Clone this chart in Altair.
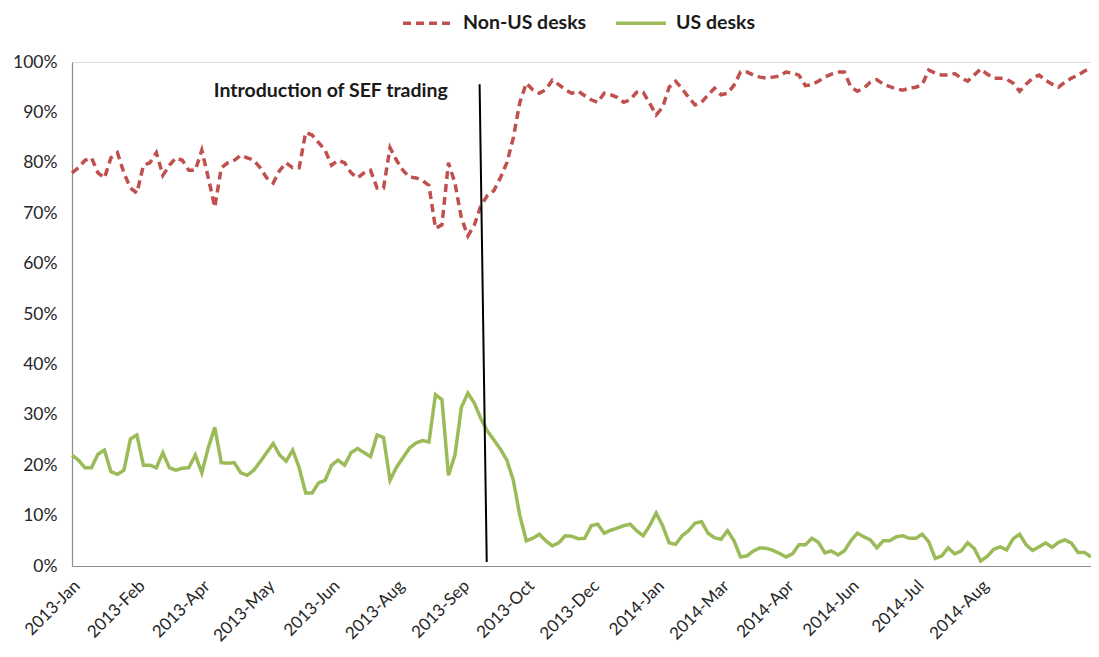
import json
import altair as alt
import pandas as pd

# Share of trading (%) by desk location, sampled points in time order
non_us = [78, 79, 80.5, 81, 78, 77, 81, 82, 78, 75,
          74, 79.5, 80, 82, 77.5, 79.5, 81, 80.5, 78.5, 78.5,
          82.5, 77, 71.2, 79, 80, 80.5, 81.5, 81, 80.5, 79,
          77, 76, 78.5, 80, 79, 79, 86, 85.5, 84, 82.5,
          79.5, 80.5, 80, 78, 77, 78, 78.5, 75, 75, 83,
          80.5, 78.5, 77.2, 77, 76.5, 75.5, 67, 67.7, 80, 76,
          69, 65.5, 67.7, 71.5, 73.5, 74.5, 77, 80, 85, 92,
          95.8, 94.5, 93.8, 94.5, 96.4, 95.5, 94.5, 93.8, 94.2, 93.3,
          92.5, 92, 93.8, 93.5, 93, 92, 92.5, 94, 94, 91.8,
          89.5, 91, 95, 96.2, 94.7, 93, 91.5, 92, 93.5, 94.8,
          93.5, 93.8, 95.4, 98, 98, 97.4, 97, 96.8, 97, 97.2,
          98, 97.8, 97.4, 95.3, 95.5, 96.2, 97, 97.6, 98, 98,
          95, 94.2, 94.8, 96, 96.5, 95.6, 95.1, 94.7, 94.4, 94.8,
          95, 95.5, 98.4, 97.8, 97.4, 97.4, 97.7, 96.8, 96.2, 97.4,
          98.6, 97.6, 96.8, 96.8, 96.6, 95.8, 94.2, 95.6, 96.8, 97.4,
          96.4, 95.6, 95, 96, 96.8, 97.4, 98.2, 98.8]

us = [22, 21, 19.5, 19.5, 22.2, 23, 18.7, 18.2, 19, 25.2,
      26, 20, 20, 19.5, 22.5, 19.5, 19, 19.4, 19.5, 22,
      18.5, 23.5, 27.5, 20.5, 20.4, 20.5, 18.5, 18, 19, 20.7,
      22.5, 24.3, 22, 20.8, 23, 19.5, 14.5, 14.5, 16.5, 17,
      20, 21, 20, 22.5, 23.3, 22.5, 21.7, 26, 25.5, 17,
      19.6, 21.5, 23.4, 24.4, 24.9, 24.6, 34, 33, 18, 22,
      31.5, 34.3, 32.3, 29.2, 26.8, 25, 23.2, 21, 17, 10,
      5, 5.5, 6.3, 5, 4, 4.6, 6, 5.9, 5.4, 5.5,
      8, 8.3, 6.5, 7.1, 7.5, 8, 8.3, 7, 6, 8,
      10.5, 8, 4.6, 4.3, 6, 7, 8.5, 8.8, 6.5, 5.6,
      5.3, 7, 5, 1.8, 2, 3, 3.6, 3.5, 3.1, 2.5,
      1.8, 2.4, 4.2, 4.2, 5.5, 4.7, 2.6, 3, 2.2, 3,
      5, 6.5, 5.8, 5.2, 3.6, 5, 5, 5.8, 6, 5.5,
      5.5, 6.3, 4.8, 1.5, 2, 3.6, 2.4, 3, 4.6, 3.5,
      1, 1.9, 3.3, 3.8, 3.2, 5.4, 6.3, 4.2, 3.1, 3.8,
      4.6, 3.7, 4.7, 5.2, 4.5, 2.7, 2.7, 1.8]

tick_labels = ["2013-Jan", "2013-Feb", "2013-Apr", "2013-May", "2013-Jun",
               "2013-Aug", "2013-Sep", "2013-Oct", "2013-Dec", "2014-Jan",
               "2014-Mar", "2014-Apr", "2014-Jun", "2014-Jul", "2014-Aug"]
tick_step = 10
tick_positions = [i * tick_step for i in range(len(tick_labels))]

series_names = ["Non-US desks", "US desks"]
series_colors = ["#C0504D", "#9BBB59"]

# SEF introduction marker (drawn slightly slanted, as in the original)
sef_x = [62.8, 63.9]
sef_y = [95.6, 0.8]
sef_text = ["Introduction of SEF trading"]
sef_text_pos = [57.9, 94.2]

n = len(non_us)
rows = []
for i in range(n):
    rows.append({"idx": i, "value": non_us[i], "series": series_names[0]})
for i in range(len(us)):
    rows.append({"idx": i, "value": us[i], "series": series_names[1]})
df = pd.DataFrame(rows)

FONT = "Lato"

x_scale = alt.Scale(domain=[0, n - 1], nice=False, zero=False)
y_scale = alt.Scale(domain=[0, 100], nice=False)

label_expr = json.dumps(tick_labels) + f"[round(datum.value / {tick_step})]"

legend = alt.Legend(title=None, orient="none", direction="horizontal",
                    legendX=344, legendY=-51,
                    symbolType="M-2.5,0L2.5,0", symbolSize=400,
                    symbolStrokeWidth=3.5, labelFont=FONT,
                    labelFontSize=19.5, labelFontWeight="bold",
                    labelColor="#1a1a1a", labelOffset=23,
                    columnPadding=22)

lines = alt.Chart(df).mark_line(strokeWidth=3.5, strokeCap="butt").encode(
    x=alt.X("idx:Q", scale=x_scale,
            axis=alt.Axis(values=tick_positions, labelExpr=label_expr, title=None,
                          grid=False, ticks=False, labelAngle=-45, labelAlign="right",
                          labelBaseline="middle", labelPadding=17, labelOffset=5,
                          labelFontSize=17, labelFont=FONT, labelColor="#262626",
                          domainColor="#8c8c8c", domainWidth=1.2, labelOverlap=False,
                          labelBound=False, labelFlush=False)),
    y=alt.Y("value:Q", scale=y_scale,
            axis=alt.Axis(values=list(range(0, 101, 10)), labelExpr="datum.value + '%'",
                          title=None, grid=False, ticks=False, labelPadding=15,
                          labelFontSize=17.5, labelFont=FONT, labelColor="#262626",
                          domainColor="#8c8c8c", domainWidth=1.2)),
    color=alt.Color("series:N",
                    scale=alt.Scale(domain=series_names, range=series_colors),
                    legend=legend),
    strokeDash=alt.StrokeDash("series:N",
                              scale=alt.Scale(domain=series_names, range=[[8, 5], [1, 0]]),
                              legend=legend),
)

rule_df = pd.DataFrame({"x1": [sef_x[0]], "x2": [sef_x[1]], "y1": [sef_y[0]], "y2": [sef_y[1]]})
rule = alt.Chart(rule_df).mark_rule(color="black", strokeWidth=2).encode(
    x=alt.X("x1:Q", scale=x_scale), x2="x2:Q",
    y=alt.Y("y1:Q", scale=y_scale), y2="y2:Q",
)

text_df = pd.DataFrame({"x": [sef_text_pos[0]], "y": [sef_text_pos[1]], "t": sef_text})
text = alt.Chart(text_df).mark_text(align="right", baseline="middle", font=FONT,
                                    fontSize=19.5, fontWeight="bold", color="#1a1a1a").encode(
    x=alt.X("x:Q", scale=x_scale), y=alt.Y("y:Q", scale=y_scale), text="t:N"
)

chart = alt.layer(lines, rule, text).properties(
    width=1019, height=504,
    autosize=alt.AutoSizeParams(type="none"),
    padding={"left": 64, "top": 54, "right": 0, "bottom": 83},
).configure_view(stroke=None).configure(background="white")

chart.save("out.html", embed_options={"renderer": "svg", "actions": False})
